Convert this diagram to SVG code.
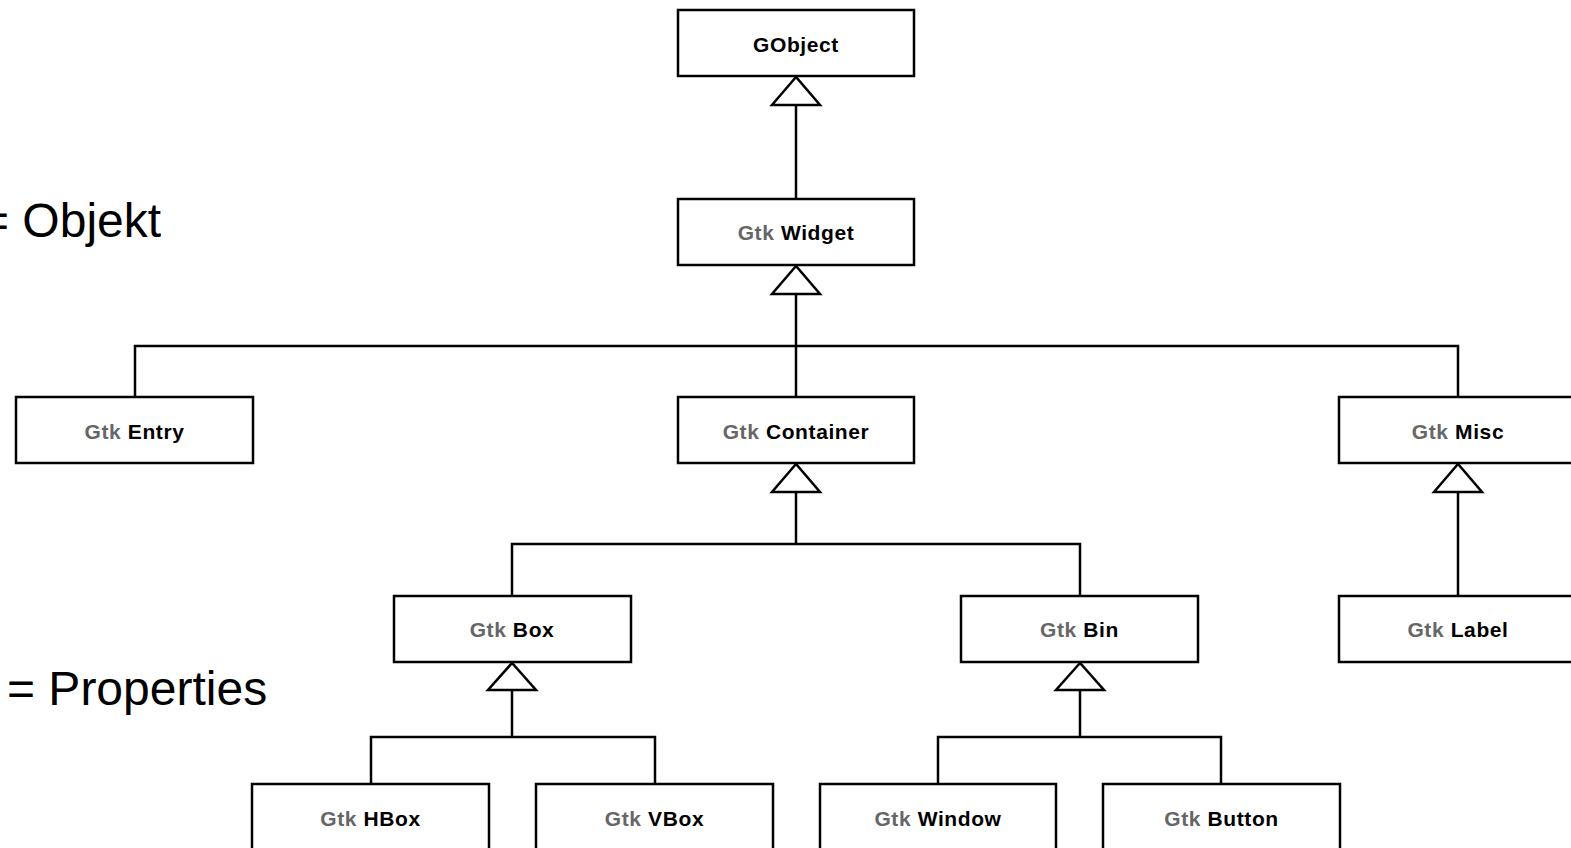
<svg xmlns="http://www.w3.org/2000/svg" width="1571" height="848" viewBox="0 0 1571 848">
<style>
.box{fill:#fff;stroke:#000;stroke-width:2.5}
.lbl{font-family:"Liberation Sans",Arial,sans-serif;font-weight:bold;font-size:21px;text-anchor:middle;fill:#000;letter-spacing:0.6px}
.g{fill:#666}
.ln{fill:none;stroke:#000;stroke-width:2.5}
.tri{fill:#fff;stroke:#000;stroke-width:2.5;stroke-linejoin:miter}
.big{font-family:"Liberation Sans",Arial,sans-serif;font-size:48px;fill:#000}
</style>
<rect width="1571" height="848" fill="#fff"/>
<text class="big" x="-19" y="237">= Objekt</text>
<text class="big" x="7" y="705">= Properties</text>
<g id="connectors">
<path class="ln" d="M796 105V199"/>
<path class="ln" d="M796 294V397M135 397V346H1458V397"/>
<path class="ln" d="M1458 492V596"/>
<path class="ln" d="M796 492V544M512 596V544H1080V596"/>
<path class="ln" d="M512 690V737M371 784V737H655V784"/>
<path class="ln" d="M1080 690V737M938 784V737H1221V784"/>
<polygon class="tri" points="796,77 772,105 820,105"/>
<polygon class="tri" points="796,266 772,294 820,294"/>
<polygon class="tri" points="796,464 772,492 820,492"/>
<polygon class="tri" points="1458,464 1434,492 1482,492"/>
<polygon class="tri" points="512,663 488,690 536,690"/>
<polygon class="tri" points="1080,663 1056,690 1104,690"/>
</g>
<g id="gobject"><rect class="box" x="678" y="10" width="236" height="66"/><text class="lbl" x="796" y="52">GObject</text></g>
<g id="widget"><rect class="box" x="678" y="199" width="236" height="66"/><text class="lbl" x="796" y="240"><tspan class="g">Gtk</tspan> Widget</text></g>
<g id="entry"><rect class="box" x="16" y="397" width="237" height="66"/><text class="lbl" x="134.5" y="439"><tspan class="g">Gtk</tspan> Entry</text></g>
<g id="container"><rect class="box" x="678" y="397" width="236" height="66"/><text class="lbl" x="796" y="439"><tspan class="g">Gtk</tspan> Container</text></g>
<g id="misc"><rect class="box" x="1339" y="397" width="237" height="66"/><text class="lbl" x="1458" y="439"><tspan class="g">Gtk</tspan> Misc</text></g>
<g id="box"><rect class="box" x="394" y="596" width="237" height="66"/><text class="lbl" x="512" y="637"><tspan class="g">Gtk</tspan> Box</text></g>
<g id="bin"><rect class="box" x="961" y="596" width="237" height="66"/><text class="lbl" x="1079.5" y="637"><tspan class="g">Gtk</tspan> Bin</text></g>
<g id="label"><rect class="box" x="1339" y="596" width="237" height="66"/><text class="lbl" x="1458" y="637"><tspan class="g">Gtk</tspan> Label</text></g>
<g id="hbox"><rect class="box" x="252" y="784" width="237" height="80"/><text class="lbl" x="370.5" y="826"><tspan class="g">Gtk</tspan> HBox</text></g>
<g id="vbox"><rect class="box" x="536" y="784" width="237" height="80"/><text class="lbl" x="654.5" y="826"><tspan class="g">Gtk</tspan> VBox</text></g>
<g id="window"><rect class="box" x="820" y="784" width="236" height="80"/><text class="lbl" x="938" y="826"><tspan class="g">Gtk</tspan> Window</text></g>
<g id="button"><rect class="box" x="1103" y="784" width="237" height="80"/><text class="lbl" x="1221.5" y="826"><tspan class="g">Gtk</tspan> Button</text></g>
</svg>
